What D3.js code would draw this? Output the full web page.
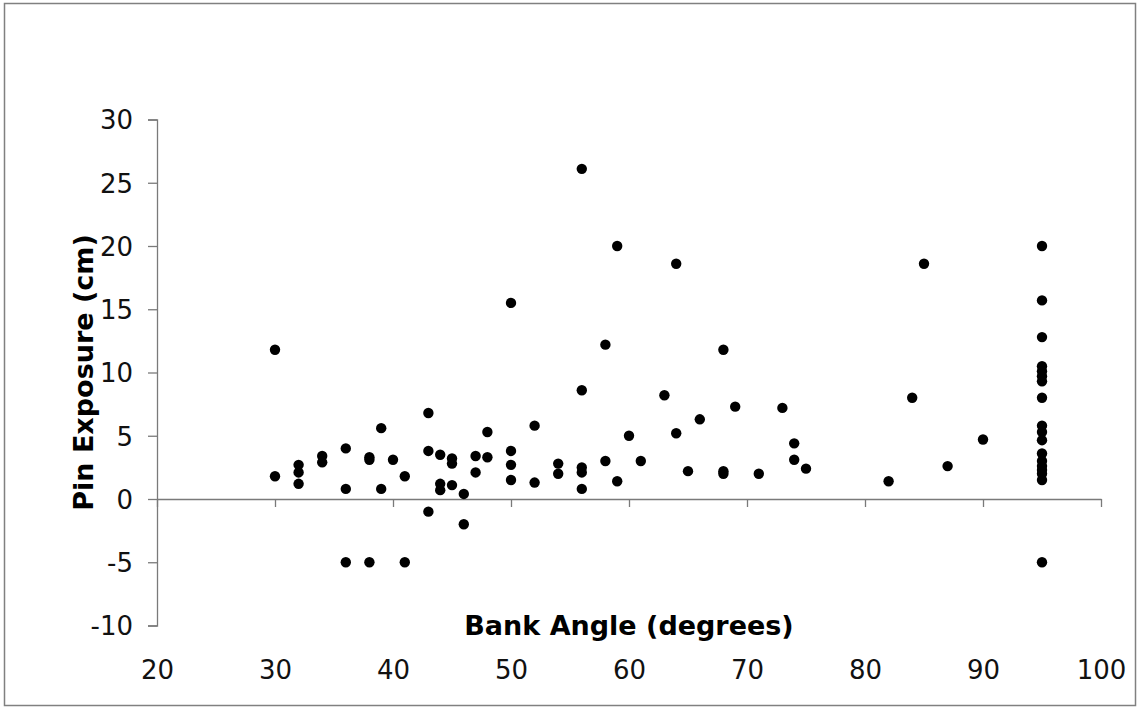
<!DOCTYPE html>
<html>
<head>
<meta charset="utf-8">
<script src="https://cdn.jsdelivr.net/npm/d3@7"></script>
<style>
  html, body { margin: 0; padding: 0; background: #fff; }
  svg { display: block; }
</style>
</head>
<body>
<svg id="chart" width="1143" height="714"></svg>
<script>
// ---- Data ----
const bankAngle = [
  30, 30,
  32, 32, 32,
  34, 34,
  36, 36, 36,
  38, 38, 38,
  39, 39,
  40,
  41, 41,
  43, 43, 43,
  44, 44, 44,
  45, 45, 45,
  46, 46,
  47, 47,
  48, 48,
  50, 50, 50, 50,
  52, 52,
  54, 54,
  56, 56, 56, 56, 56,
  58, 58,
  59, 59,
  60,
  61,
  63,
  64, 64,
  65,
  66,
  68, 68, 68,
  69,
  71,
  73,
  74, 74,
  75,
  82,
  84,
  85,
  87,
  90,
  95, 95, 95, 95, 95, 95, 95, 95, 95, 95, 95, 95, 95, 95, 95, 95, 95, 95
];
const pinExposure = [
  11.8, 1.8,
  2.7, 2.1, 1.2,
  3.4, 2.9,
  4.0, 0.8, -5,
  3.3, 3.1, -5,
  5.6, 0.8,
  3.1,
  1.8, -5,
  6.8, 3.8, -1,
  3.5, 1.2, 0.7,
  3.2, 2.8, 1.1,
  0.4, -2,
  3.4, 2.1,
  5.3, 3.3,
  15.5, 3.8, 2.7, 1.5,
  5.8, 1.3,
  2.8, 2.0,
  26.1, 8.6, 2.5, 2.1, 0.8,
  12.2, 3.0,
  20.0, 1.4,
  5.0,
  3.0,
  8.2,
  18.6, 5.2,
  2.2,
  6.3,
  11.8, 2.2, 2.0,
  7.3,
  2.0,
  7.2,
  4.4, 3.1,
  2.4,
  1.4,
  8.0,
  18.6,
  2.6,
  4.7,
  20.0, 15.7, 12.8, 10.5, 10.1, 9.7, 9.3, 8.0, 5.8, 5.3, 4.65, 3.6, 3.0, 2.6, 2.3, 2.0, 1.5, -5
];
const xTicks = [20, 30, 40, 50, 60, 70, 80, 90, 100];
const yTicks = [-10, -5, 0, 5, 10, 15, 20, 25, 30];
const xTitle = "Bank Angle (degrees)";
const yTitle = "Pin Exposure (cm)";

// ---- Layout ----
const plot = { left: 157, right: 1101, top: 119.5, bottom: 625.5 };
const FONT = "'DejaVu Sans', Verdana, sans-serif";
const axisColor = "#7a7a7a";
const tickFont = 26, titleFont = 27;

const svg = d3.select("#chart");

// outer border
svg.append("rect")
  .attr("x", 4.5).attr("y", 3.5)
  .attr("width", 1131).attr("height", 702)
  .attr("fill", "#fff")
  .attr("stroke", "#808080")
  .attr("stroke-width", 1.5);

const x = d3.scaleLinear().domain([20, 100]).range([plot.left, plot.right]);
const y = d3.scaleLinear().domain([-10, 30]).range([plot.bottom, plot.top]);
const fmt = d => String(d);

// Y axis
const yAxis = svg.append("g")
  .attr("transform", `translate(${plot.left},0)`)
  .call(d3.axisLeft(y).tickValues(yTicks).tickSize(9).tickPadding(15).tickFormat(fmt));
yAxis.select(".domain").attr("stroke", axisColor).attr("stroke-width", 1.3);
yAxis.selectAll(".tick line").attr("stroke", axisColor).attr("stroke-width", 1.3);
yAxis.selectAll(".tick text")
  .attr("font-family", FONT).attr("font-size", tickFont).attr("fill", "#111")
  .attr("dy", "0.36em");

// X axis line at y = 0
const y0 = y(0);
const xAxis = svg.append("g")
  .attr("transform", `translate(0,${y0})`)
  .call(d3.axisBottom(x).tickValues(xTicks).tickSize(8).tickSizeOuter(0).tickFormat(fmt));
xAxis.select(".domain").attr("stroke", axisColor).attr("stroke-width", 1.3);
xAxis.selectAll(".tick line").attr("stroke", axisColor).attr("stroke-width", 1.3);
xAxis.selectAll(".tick text")
  .attr("font-family", FONT).attr("font-size", tickFont).attr("fill", "#111")
  .attr("y", 679 - y0).attr("dy", 0);

// Points
svg.append("g")
  .selectAll("circle")
  .data(bankAngle.map((b, i) => ({ b, p: pinExposure[i] })))
  .join("circle")
  .attr("cx", d => x(d.b))
  .attr("cy", d => y(d.p))
  .attr("r", 5.2)
  .attr("fill", "#000");

// Axis titles
svg.append("text")
  .attr("x", (plot.left + plot.right) / 2)
  .attr("y", 635)
  .attr("text-anchor", "middle")
  .attr("font-family", FONT).attr("font-weight", "bold").attr("font-size", titleFont)
  .attr("fill", "#000")
  .text(xTitle);

svg.append("text")
  .attr("transform", `translate(93,${(plot.top + plot.bottom) / 2}) rotate(-90)`)
  .attr("text-anchor", "middle")
  .attr("font-family", FONT).attr("font-weight", "bold").attr("font-size", titleFont)
  .attr("fill", "#000")
  .text(yTitle);
</script>
</body>
</html>
